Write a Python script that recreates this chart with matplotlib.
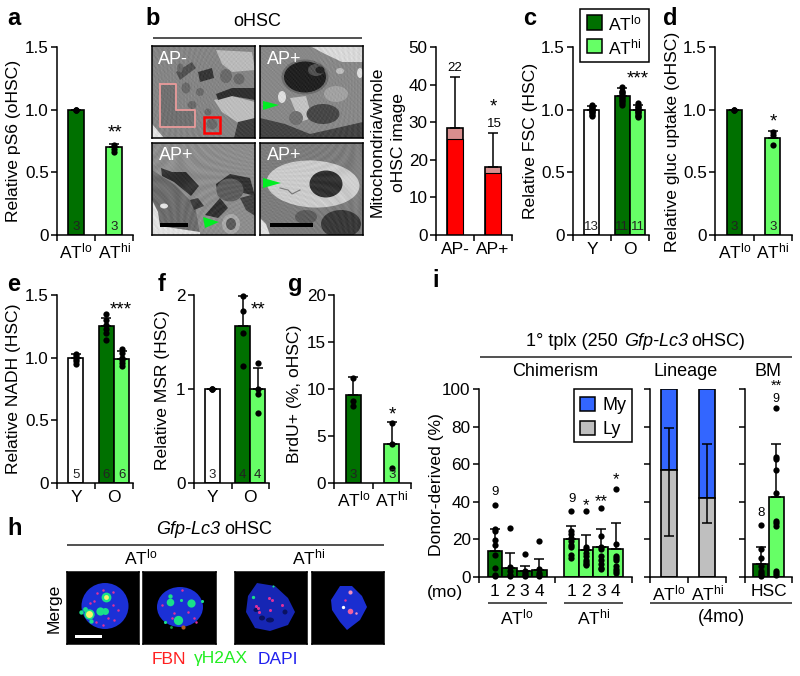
import matplotlib
matplotlib.use("Agg")
import matplotlib.pyplot as plt
import numpy as np
from matplotlib.patches import Ellipse, Polygon, Rectangle

plt.rcParams['font.family'] = ['Liberation Sans', 'DejaVu Sans']
plt.rcParams['mathtext.fontset'] = 'custom'
plt.rcParams['mathtext.rm'] = 'Liberation Sans'
plt.rcParams['mathtext.it'] = 'Liberation Sans:italic'
plt.rcParams['axes.linewidth'] = 1.1

DARK = '#007000'
LIGHT = '#66ff66'
WHITE = '#ffffff'
RED = '#ff0000'
PINK = '#d98e8e'
BLUE = '#3366ff'
GRAY = '#bfbfbf'
LO = 'AT$^{\\mathrm{lo}}$'
HI = 'AT$^{\\mathrm{hi}}$'

# a
a_vals = [1.0, 0.7]
a_err = [1.0, 0.73]
a_pts = [[1.0, 1.0, 1.0], [0.66, 0.69, 0.72]]
a_n = ['3', '3']
# b
b_labels = ['AP-', 'AP+']
b_red = [25.5, 16.5]
b_total = [28.5, 18.0]
b_err = [42, 27]
# c
c_vals = [1.0, 1.11, 1.0]
c_err = [1.03, 1.17, 1.04]
c_pts = [[0.95, 0.96, 0.97, 0.98, 0.99, 1.0, 1.0, 1.01, 1.02, 1.03, 1.04],
         [1.04, 1.05, 1.07, 1.08, 1.09, 1.1, 1.12, 1.13, 1.14, 1.15, 1.18],
         [0.94, 0.95, 0.96, 0.97, 0.98, 0.99, 1.0, 1.01, 1.02, 1.03, 1.05]]
c_n = ['13', '11', '11']
# d
d_vals = [1.0, 0.77]
d_err = [1.0, 0.83]
d_pts = [[1.0, 1.0, 1.0], [0.72, 0.8, 0.82]]
d_n = ['3', '3']
# e
e_vals = [1.0, 1.25, 0.99]
e_err = [1.03, 1.32, 1.05]
e_pts = [[0.95, 0.97, 0.99, 1.01, 1.03], [1.14, 1.2, 1.23, 1.26, 1.3, 1.35],
         [0.93, 0.96, 0.98, 1.0, 1.04, 1.07]]
e_n = ['5', '6', '6']
# f
f_vals = [1.0, 1.67, 1.0]
f_err = [1.0, 1.99, 1.22]
f_pts = [[1.0, 1.0, 1.0], [1.25, 1.6, 1.83, 1.99], [0.75, 0.95, 1.0, 1.28]]
f_n = ['3', '4', '4']
# g
g_vals = [9.4, 4.1]
g_err = [11.3, 6.5]
g_pts = [[8.2, 8.7, 11.2], [1.6, 4.1, 6.4]]
g_n = ['3', '3']
# i chimerism
i_vals = [14, 5, 3, 3.5, 20, 14.5, 16, 15]
i_err = [25.5, 13, 6, 9.5, 27, 22.5, 25.5, 28.5]
i_pts = [[38.5, 25.5, 24.5, 19.5, 17, 11.7, 5, 1, 0.5],
         [26, 5.5, 3, 1, 0.5],
         [12.3, 3, 2, 1, 0.5],
         [19, 4, 2, 1, 0.5],
         [35, 24.5, 23, 21, 19, 17, 16, 11.5, 10],
         [35, 16, 15, 13, 11, 9, 8, 7, 6.5],
         [36.5, 22, 16, 15, 11, 9, 7, 5, 4],
         [47, 17.5, 11, 10, 9, 6, 4.5, 3, 2]]
i_months = ['1', '2', '3', '4', '1', '2', '3', '4']
# i lineage
lin_ly = [57, 42]
lin_my_err = [79.5, 70.5]
lin_ly_err = [22, 28.5]
# i BM
bm_vals = [7, 42.5]
bm_err = [16, 71]
bm_pts = [[27.5, 15, 10, 6, 3, 2, 1, 0.5],
          [90, 64, 63, 57, 44.5, 30, 28.5, 27, 3, 2, 1]]

W, H = 800, 676
fig = plt.figure(figsize=(8, 6.76), dpi=100)

over = fig.add_axes([0, 0, 1, 1], zorder=10)
over.set_xlim(0, W)
over.set_ylim(H, 0)
over.axis('off')
over.patch.set_alpha(0)


def txt(x, y, s, size=12.6, **kw):
    kw.setdefault('ha', 'center')
    kw.setdefault('va', 'center')
    over.text(x, y, s, fontsize=size, **kw)


def hline(x0, x1, y, lw=1.1):
    over.plot([x0, x1], [y, y], color='#222222', lw=lw, solid_capstyle='butt')


def panel(x0, x1, ytop, ybot, ymax, yticks, ylabels, centers=None, labels=None, xmax=2, xticks=(0, 1, 2)):
    ax = fig.add_axes([x0 / W, 1 - ybot / H, (x1 - x0) / W, (ybot - ytop) / H])
    ax.set_xlim(0, xmax)
    ax.set_ylim(0, ymax)
    ax.spines['top'].set_visible(False)
    ax.spines['right'].set_visible(False)
    ax.set_yticks(yticks, ylabels, fontsize=12.3)
    ax.set_xticks(list(xticks), [''] * len(xticks))
    ax.tick_params(which='major', length=4, width=1.1, pad=2)
    if centers is not None:
        ax.set_xticks(centers, labels, minor=True, fontsize=12.5)
        ax.tick_params(axis='x', which='minor', length=0, pad=5)
    return ax


def bars(ax, xs, vals, colors, tops=None, pts=None, ns=None, width=0.4):
    ax.bar(xs, vals, width=width, color=colors, edgecolor='black', linewidth=1.2, zorder=2)
    if tops is not None:
        for x, v, t in zip(xs, vals, tops):
            ax.errorbar([x], [v], yerr=[[0], [t - v]], color='black', lw=1.1, capsize=3.5, capthick=1.1, zorder=3)
    if pts is not None:
        for x, p in zip(xs, pts):
            ax.plot([x] * len(p), p, 'o', color='black', ms=4.5, mew=0, zorder=4, clip_on=False)
    if ns is not None:
        for x, n in zip(xs, ns):
            ax.text(x, 0.012, n, transform=ax.get_xaxis_transform(), ha='center', va='bottom', fontsize=9.5,
                    color='#222222', zorder=5)


# a
ax = panel(57, 133, 47, 235, 1.5, [0, 0.5, 1, 1.5], ['0', '0.5', '1.0', '1.5'], [0.5, 1.5], [LO, HI])
bars(ax, [0.5, 1.5], a_vals, [DARK, LIGHT], a_err, a_pts, a_n)

# b bars
ax = panel(436, 512, 47, 235, 50, [0, 10, 20, 30, 40, 50], ['0', '10', '20', '30', '40', '50'], [0.5, 1.5], b_labels)
ax.bar([0.5, 1.5], b_total, width=0.4, color=PINK, edgecolor='black', linewidth=1.2, zorder=2)
ax.bar([0.5, 1.5], b_red, width=0.4, color=RED, edgecolor='black', linewidth=0.8, zorder=2)
for x, t, v in zip([0.5, 1.5], b_err, b_total):
    ax.errorbar([x], [v], yerr=[[0], [t - v]], color='black', lw=1.1, capsize=3.5, capthick=1.1, zorder=3)

# c
ax = panel(573, 649, 47, 235, 1.5, [0, 0.5, 1, 1.5], ['0', '0.5', '1.0', '1.5'], [0.5, 1.5], ['Y', 'O'])
bars(ax, [0.49, 1.3, 1.7], c_vals, [WHITE, DARK, LIGHT], c_err, c_pts, c_n)

# d
ax = panel(715, 792, 47, 235, 1.5, [0, 0.5, 1, 1.5], ['0', '0.5', '1.0', '1.5'], [0.5, 1.5], [LO, HI])
bars(ax, [0.5, 1.5], d_vals, [DARK, LIGHT], d_err, d_pts, d_n)

# e
ax = panel(57, 133, 295, 483, 1.5, [0, 0.5, 1, 1.5], ['0', '0.5', '1.0', '1.5'], [0.5, 1.5], ['Y', 'O'])
bars(ax, [0.49, 1.3, 1.7], e_vals, [WHITE, DARK, LIGHT], e_err, e_pts, e_n)

# f
ax = panel(194, 269, 295, 483, 2, [0, 1, 2], ['0', '1', '2'], [0.5, 1.5], ['Y', 'O'])
bars(ax, [0.49, 1.3, 1.7], f_vals, [WHITE, DARK, LIGHT], f_err, f_pts, f_n)

# g
ax = panel(334, 411, 295, 483, 20, [0, 5, 10, 15, 20], ['0', '5', '10', '15', '20'], [0.5, 1.5], [LO, HI])
bars(ax, [0.5, 1.5], g_vals, [DARK, LIGHT], g_err, g_pts, g_n)

# i chimerism, one x unit is one bar
i_x = [0, 1, 2, 3, 5.15, 6.15, 7.15, 8.15]
ax = panel(479, 632, 389, 577, 100, [0, 20, 40, 60, 80, 100], ['0', '20', '40', '60', '80', '100'],
           i_x, i_months, xticks=(-1.08, 4.05, 9.26))
ax.set_xlim(-1.08, 9.26)
bars(ax, i_x, i_vals, [DARK] * 4 + [LIGHT] * 4, i_err, i_pts, width=1)

# i lineage
ax = panel(650, 726, 389, 577, 100, [0, 20, 40, 60, 80, 100], [''] * 6, [0.5, 1.5], [LO, HI])
for x, ly, my_e, ly_e in zip([0.5, 1.5], lin_ly, lin_my_err, lin_ly_err):
    ax.bar([x], [100 - ly], bottom=[ly], width=0.4, color=BLUE, edgecolor='black', linewidth=1.2, zorder=2)
    ax.bar([x], [ly], width=0.4, color=GRAY, edgecolor='black', linewidth=1.2, zorder=2)
    ax.errorbar([x], [ly], yerr=[[ly - ly_e], [my_e - ly]], color='black', lw=1.1, capsize=3.5, capthick=1.1, zorder=3)

# i BM
ax = panel(745, 792, 389, 577, 100, [0, 20, 40, 60, 80, 100], [''] * 6, [1.0], ['HSC'], xticks=(0, 2))
bars(ax, [0.67, 1.33], bm_vals, [DARK, LIGHT], bm_err, bm_pts, width=0.65)


def picture(x0, y0, x1, y1, bg):
    p = fig.add_axes([x0 / W, 1 - y1 / H, (x1 - x0) / W, (y1 - y0) / H], zorder=5)
    p.set_xlim(x0, x1)
    p.set_ylim(y1, y0)
    p.set_xticks([])
    p.set_yticks([])
    p.set_facecolor(bg)
    return p


def blob(p, x, y, w, h, c, angle=0):
    p.add_patch(Ellipse((x, y), w, h, angle=angle, facecolor=c, edgecolor='none'))


def poly(p, c, *xy):
    p.add_patch(Polygon(xy, closed=True, facecolor=c, edgecolor='none'))


def grain(p):
    # micrograph mottling, purely cosmetic
    x0, x1 = p.get_xlim()
    y1, y0 = p.get_ylim()
    gx, gy = np.meshgrid(np.arange(x0, x1, 1.5), np.arange(y0, y1, 1.5))
    tex = np.sin(gx * 1.7 + gy * 0.6) * np.sin(gy * 2.3 - gx * 0.4) + 0.5 * np.sin(gx * 0.47 * gy * 0.05)
    p.imshow(tex, extent=(x0, x1, y1, y0), cmap='gray', alpha=0.15, aspect='auto', interpolation='bilinear',
             zorder=2)
    p.set_xlim(x0, x1)
    p.set_ylim(y1, y0)


# b micrographs
p = picture(152, 46, 255, 138, '#868686')
poly(p, '#c4c4c4', (216, 50), (252, 52), (255, 70), (232, 72), (222, 64))
poly(p, '#c8c8c8', (214, 100), (232, 96), (255, 102), (255, 118), (240, 124), (222, 112))
poly(p, '#232323', (216, 94), (232, 88), (255, 88), (255, 100), (232, 96), (218, 100))
poly(p, '#2a2a2a', (198, 72), (212, 68), (214, 78), (200, 82))
poly(p, '#333333', (238, 122), (255, 118), (255, 138), (234, 138))
poly(p, '#4a4a4a', (176, 72), (192, 62), (196, 68), (180, 80))
poly(p, '#f4f4f4', (152, 124), (164, 138), (152, 138))
for x, y, w, h in [(226, 76, 12, 14), (239, 79, 11, 11), (200, 92, 8, 8), (186, 88, 9, 11),
                   (192, 105, 9, 8), (212, 124, 11, 11), (180, 68, 6, 9), (208, 112, 7, 7)]:
    blob(p, x, y, w, h, '#666666')
poly(p, '#6e6e6e', (161, 85), (175, 85), (175, 111), (194, 111), (194, 126), (161, 126))
grain(p)
p.plot([160, 176, 176, 195, 195, 160, 160], [84, 84, 110, 110, 127, 127, 84], color='#e89a9a', lw=1.3, zorder=3)
p.add_patch(Rectangle((204, 117), 16, 16, fill=False, edgecolor=RED, lw=1.8, zorder=3))

p = picture(260, 46, 363, 138, '#8a8a8a')
poly(p, '#e8e8e8', (310, 46), (363, 46), (363, 62), (342, 62), (325, 54))
poly(p, '#3a3a3a', (260, 118), (285, 124), (310, 134), (363, 122), (363, 138), (260, 138))
blob(p, 282, 97, 8, 12, '#eeeeee')
blob(p, 360, 73, 6, 10, '#eeeeee')
blob(p, 340, 71, 8, 6, '#c8c8c8')
poly(p, '#cfcfcf', (290, 98), (306, 96), (312, 118), (300, 122))
blob(p, 336, 94, 24, 16, '#a8a8a8')
blob(p, 305, 77, 47, 35, '#6a6a6a')
blob(p, 305, 77, 42, 31, '#111111')
blob(p, 316, 70, 16, 12, '#4a4a4a')
blob(p, 320, 70, 9, 7, '#151515')
blob(p, 323, 114, 33, 20, '#3e3e3e')
blob(p, 296, 118, 14, 14, '#6f6f6f')
grain(p)
p.add_patch(Polygon([(263, 101), (263, 110), (279, 105)], facecolor='#00ee22', edgecolor='none', zorder=3))

p = picture(152, 143, 255, 235, '#909090')
poly(p, '#6a6a6a', (152, 170), (175, 185), (195, 205), (200, 235), (152, 235))
poly(p, '#262626', (161, 168), (172, 172), (186, 172), (199, 186), (191, 196), (174, 182), (162, 176))
poly(p, '#262626', (216, 184), (230, 174), (250, 178), (255, 196), (240, 192), (218, 196))
blob(p, 230, 190, 27, 23, '#585858')
poly(p, '#262626', (205, 215), (220, 198), (228, 208), (218, 218))
poly(p, '#303030', (190, 200), (198, 198), (204, 206), (194, 210))
poly(p, '#3a3a3a', (240, 198), (255, 194), (255, 216), (246, 210))
poly(p, '#f2f2f2', (152, 200), (158, 212), (160, 226), (200, 232), (200, 235), (152, 235))
blob(p, 164, 206, 8, 5, '#f2f2f2')
blob(p, 231, 224, 18, 20, '#b0b0b0')
blob(p, 231, 224, 10, 12, '#555555')
grain(p)
p.add_patch(Rectangle((160, 223.5), 28, 4, facecolor='black', zorder=3))
p.add_patch(Polygon([(203, 217), (205, 228), (219, 222)], facecolor='#00ee22', edgecolor='none', zorder=3))

p = picture(260, 143, 363, 235, '#7c7c7c')
blob(p, 313, 184, 93, 47, '#d8d8d8', angle=3)
blob(p, 326, 184, 33, 27, '#252525')
blob(p, 341, 224, 40, 28, '#2e2e2e')
blob(p, 306, 217, 22, 14, '#565656')
poly(p, '#f2f2f2', (260, 218), (266, 224), (270, 235), (260, 235))
p.plot([280, 288, 292, 300], [188, 190, 194, 190], color='#777777', lw=0.8)
grain(p)
p.add_patch(Rectangle((270, 223.5), 43, 4, facecolor='black', zorder=3))
p.add_patch(Polygon([(263, 178), (263, 188), (281, 183)], facecolor='#00ee22', edgecolor='none', zorder=3))

# h confocal images
NUC = '#1b30d6'
PNK = '#e0309a'
GRN = '#19e08a'
YEL = '#f4f46a'
p = picture(67, 572, 139, 644, 'black')
blob(p, 105, 606, 47, 46, NUC)
for x, y, s in [(106, 597, 50), (89, 614, 55), (100, 611, 35), (105, 611, 25), (85, 609, 12), (81, 612, 10), (91, 621, 10)]:
    p.plot(x, y, 'o', color=GRN, ms=s ** 0.5, mew=0)
p.plot(89, 614, 'o', color=YEL, ms=5, mew=0)
p.plot(106, 597, 'o', color=YEL, ms=3.5, mew=0)
for x, y in [(103, 590), (113, 592), (97, 593), (94, 601), (113, 605), (118, 610), (96, 622), (103, 625), (108, 618), (114, 620), (90, 603)]:
    p.plot(x, y, 'o', color=PNK, ms=1.8, mew=0)
p.add_patch(Rectangle((75, 635), 27, 2.6, facecolor='white'))

p = picture(143, 572, 216, 644, 'black')
blob(p, 180, 607, 46, 40, NUC)
for x, y, s in [(170, 602, 30), (191, 603, 35), (178, 620, 45), (170, 596, 10), (165, 622, 5), (181, 600, 5), (202, 601, 5)]:
    p.plot(x, y, 'o', color=GRN, ms=s ** 0.5, mew=0)
for x, y in [(174, 613), (172, 618), (188, 612), (194, 618), (162, 605), (182, 590), (196, 622)]:
    p.plot(x, y, 'o', color=PNK, ms=1.8, mew=0)
p.plot(183, 627, 'o', color='#b05a20', ms=3, mew=0)
p.plot(171, 627, 'o', color='#14a03c', ms=2, mew=0)

p = picture(235, 572, 307, 644, 'black')
poly(p, '#1626b4', (257, 583), (275, 586), (288, 598), (295, 612), (288, 625), (270, 631), (255, 628),
     (246, 612), (248, 596))
for x, y, w, h in [(270, 620, 8, 5), (262, 618, 6, 5), (285, 612, 5, 5), (256, 610, 5, 4)]:
    blob(p, x, y, w, h, '#0a1262')
for x, y in [(256, 606), (258, 608), (272, 600), (269, 598), (282, 605), (270, 610), (259, 612)]:
    p.plot(x, y, 'o', color=PNK, ms=2.2, mew=0)
p.plot(253, 597, 'o', color=GRN, ms=2.4, mew=0)
p.plot(273, 586, 'o', color=GRN, ms=1.5, mew=0)

p = picture(312, 572, 384, 644, 'black')
poly(p, '#1a2ed0', (340, 586), (352, 586), (362, 596), (367, 607), (360, 620), (347, 630), (340, 622),
     (332, 610), (331, 600))
for x, y, c, s in [(350, 592, '#f090c0', 3), (343, 607, '#ffffff', 2.4), (350, 611, '#f060a0', 4),
                   (345, 600, PNK, 1.8), (356, 613, '#f090c0', 1.8)]:
    p.plot(x, y, 'o', color=c, ms=s, mew=0)

# legends, drawn last so they sit above the axes
over.add_patch(Rectangle((579.5, 8.5), 69, 53, facecolor='white', edgecolor='black', lw=1.1))
over.add_patch(Rectangle((587, 15), 15, 15, facecolor=DARK, edgecolor='black', lw=1.1))
over.add_patch(Rectangle((587, 39), 15, 14, facecolor=LIGHT, edgecolor='black', lw=1.1))
txt(608, 23, LO, ha='left')
txt(608, 47, HI, ha='left')
over.add_patch(Rectangle((573.5, 388.5), 58, 53, facecolor='white', edgecolor='black', lw=1.1))
over.add_patch(Rectangle((580, 397), 15, 14, facecolor=BLUE, edgecolor='black', lw=1.1))
over.add_patch(Rectangle((580, 421), 15, 14, facecolor=GRAY, edgecolor='black', lw=1.1))
txt(602, 405, 'My', ha='left', size=13)
txt(602, 429, 'Ly', ha='left', size=13)

# panel letters
for s, x, y in [('a', 7, 25), ('b', 145, 25), ('c', 523, 25), ('d', 663, 25), ('e', 7, 291), ('f', 158, 291),
                ('g', 288, 291), ('h', 7, 535), ('i', 432, 287)]:
    txt(x, y, s, size=17, ha='left', va='baseline', fontweight='bold')

# y labels
for s, x, y in [('Relative pS6 (oHSC)', 14, 141), ('Relative FSC (HSC)', 530, 141),
                ('Relative gluc uptake (oHSC)', 672, 142), ('Relative NADH (HSC)', 14, 389),
                ('Relative MSR (HSC)', 163, 390), ('BrdU+ (%, oHSC)', 295, 394),
                ('Donor-derived (%)', 436, 484), ('Merge', 54, 608)]:
    txt(x, y, s, rotation=90)
txt(388, 142, 'Mitochondria/whole\noHSC image', rotation=90, linespacing=1.5)

# b titles
txt(257, 22, 'oHSC', size=13)
hline(153, 362, 38)
txt(158, 59, 'AP-', color='white', ha='left', size=13)
txt(267, 59, 'AP+', color='white', ha='left', size=13)
txt(159, 156, 'AP+', color='white', ha='left', size=13)
txt(267, 156, 'AP+', color='white', ha='left', size=13)

# significance and n
for s, x, y, size in [('**', 115, 130, 13.5), ('*', 493, 104, 13.5), ('***', 638, 76, 13.5), ('*', 773, 119, 13.5),
                      ('***', 121, 307, 13.5), ('**', 258, 307, 13.5), ('*', 392, 412, 13.5),
                      ('*', 586, 503, 12), ('**', 601, 499, 12), ('*', 616, 477, 12)]:
    txt(x, y + 3, s, size=size)
txt(776, 386, '**', size=10.5)
for s, x, y in [('22', 455, 68), ('15', 494, 124), ('9', 495, 492), ('9', 572, 499), ('8', 761, 513)]:
    txt(x, y, s, size=9.5)
txt(776, 399, '9', size=9)

# h titles
txt(220, 529, 'Gfp-Lc3', ha='right', fontstyle='italic', size=13)
txt(224, 529, 'oHSC', ha='left', size=13)
hline(67, 384, 545)
txt(141, 557, LO)
txt(309, 557, HI)
over.text(152, 659, 'FBN', color='#ff2020', fontsize=12.5, ha='left', va='center')
over.text(194, 659, '\u03b3H2AX', color='#22ee22', fontsize=12.5, ha='left', va='center')
over.text(258, 659, 'DAPI', color='#2020ee', fontsize=12.5, ha='left', va='center')

# i titles and brackets
txt(618, 342, '1\u00b0 tplx (250', ha='right', size=13)
txt(624, 342, 'Gfp-Lc3', ha='left', fontstyle='italic', size=13)
txt(691, 342, 'oHSC)', ha='left', size=13)
hline(480, 792, 357)
txt(555, 372, 'Chimerism', size=13)
txt(686, 372, 'Lineage', size=13)
txt(768, 371, 'BM', size=13)
txt(445, 593, '(mo)')
hline(488, 547, 603)
hline(564, 623, 603)
hline(650, 792, 603)
txt(517, 617, LO)
txt(594, 617, HI)
txt(721, 617, '(4mo)', size=13)

fig.savefig('out.png', dpi=100)
